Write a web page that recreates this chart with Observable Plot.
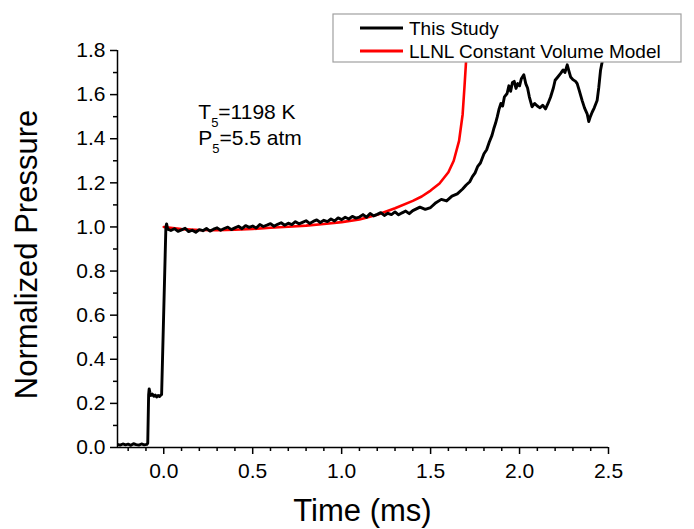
<!DOCTYPE html>
<html><head><meta charset="utf-8">
<script src="https://cdn.jsdelivr.net/npm/d3@7"></script>
<script src="https://cdn.jsdelivr.net/npm/@observablehq/plot@0.6"></script>
<style>
body{margin:0;background:#fff}
#chart{position:relative;width:694px;height:529px}
</style>
</head><body><div id="chart"></div>
<script>
// ---- Data ----
const studyTime = [
 -0.26,-0.245,-0.23,-0.215,-0.2,-0.185,-0.17,-0.155,-0.14,-0.125,-0.11,-0.095,
 -0.09,-0.085,-0.082,-0.078,-0.072,-0.064,-0.056,-0.048,-0.04,-0.032,-0.024,-0.016,
 -0.012,0.012,0.016,0.022,
 0.04,0.06,0.08,0.10,0.12,0.14,0.16,0.18,0.20,0.22,0.24,0.26,0.28,0.30,0.32,0.34,
 0.36,0.38,0.40,0.42,0.44,0.46,0.48,0.50,0.52,0.54,0.56,0.58,0.60,0.62,0.64,0.66,
 0.68,0.70,0.72,0.74,0.76,0.78,0.80,0.82,0.84,0.86,0.88,0.90,0.92,0.94,0.96,0.98,
 1.00,1.02,1.04,1.06,1.08,1.10,1.12,1.14,1.16,1.18,1.20,1.22,1.24,1.26,1.28,1.30,
 1.32,1.34,1.36,1.38,1.40,1.42,1.44,
 1.47,1.50,1.53,1.56,1.59,1.62,1.65,1.68,1.70,1.72,1.735,1.75,1.765,1.78,1.80,1.815,
 1.83,1.845,1.855,1.865,1.875,1.885,1.895,1.905,1.915,1.93,1.94,1.95,1.96,1.97,1.98,1.99,
 2.00,2.01,2.024,2.035,2.045,2.055,2.07,2.085,2.10,2.115,2.13,2.146,2.16,2.174,2.19,2.20,
 2.215,2.23,2.245,2.255,2.268,2.278,2.287,2.30,2.315,2.324,2.335,2.352,2.365,2.38,2.389,2.398,
 2.408,2.42,2.436,2.445,2.455,2.464,2.475,2.49
];
const studyPressure = [
 0.014,0.011,0.016,0.012,0.015,0.010,0.017,0.013,0.011,0.016,0.012,0.014,
 0.02,0.24,0.266,0.25,0.236,0.242,0.232,0.238,0.229,0.236,0.231,0.238,
 0.24,1.0,1.014,0.99,
 0.984,0.992,0.980,0.987,0.994,0.979,0.985,0.976,0.988,0.983,0.993,0.981,0.990,0.996,0.985,0.993,
 0.999,0.988,0.996,1.003,0.992,1.006,0.998,1.004,0.995,1.011,1.002,1.008,1.015,1.003,1.012,1.019,
 1.008,1.017,1.011,1.024,1.014,1.021,1.028,1.016,1.025,1.032,1.020,1.030,1.024,1.036,1.027,1.041,
 1.033,1.044,1.036,1.048,1.040,1.045,1.056,1.044,1.061,1.050,1.057,1.065,1.052,1.062,1.056,1.068,
 1.055,1.064,1.072,1.060,1.074,1.082,1.090,
 1.080,1.088,1.110,1.125,1.118,1.140,1.150,1.172,1.190,1.205,1.228,1.245,1.275,1.290,1.332,1.350,
 1.385,1.415,1.445,1.470,1.500,1.535,1.560,1.548,1.590,1.605,1.640,1.615,1.655,1.660,1.628,1.650,
 1.640,1.672,1.690,1.650,1.630,1.590,1.545,1.560,1.548,1.540,1.552,1.535,1.560,1.588,1.630,1.665,
 1.680,1.695,1.712,1.700,1.735,1.705,1.680,1.668,1.660,1.650,1.620,1.573,1.540,1.513,1.478,1.500,
 1.520,1.540,1.573,1.630,1.709,1.747,1.800,1.850
];
const modelTime = [0,0.1,0.2,0.3,0.4,0.5,0.6,0.7,0.8,0.9,1.0,1.1,1.2,1.3,1.4,1.45,1.5,1.55,1.6,1.63,1.66,1.68,1.69,1.70,1.705];
const modelPressure = [1.0,0.99,0.986,0.985,0.987,0.991,0.996,1.001,1.006,1.013,1.022,1.034,1.055,1.085,1.118,1.138,1.165,1.197,1.248,1.30,1.39,1.51,1.63,1.76,1.85];

const xTicks = [0,0.5,1.0,1.5,2.0,2.5];
const xMinorTicks = [-0.2,-0.1,0.1,0.2,0.3,0.4,0.6,0.7,0.8,0.9,1.1,1.2,1.3,1.4,1.6,1.7,1.8,1.9,2.1,2.2,2.3,2.4];
const yTicks = [0,0.2,0.4,0.6,0.8,1.0,1.2,1.4,1.6,1.8];
const yMinorTicks = [0.1,0.3,0.5,0.7,0.9,1.1,1.3,1.5,1.7];
const seriesNames = ["This Study","LLNL Constant Volume Model"];
const seriesColors = ["#000000","#ff0000"];
const xLabel = "Time (ms)";
const yLabel = "Normalized Pressure";
const note = {T: "1198 K", P: "5.5 atm"};

const study = studyTime.map((t,i)=>({t, p: studyPressure[i]}));
const model = modelTime.map((t,i)=>({t, p: modelPressure[i]}));
const font = "'Liberation Sans', Arial, sans-serif";

const plot = Plot.plot({
  width: 694, height: 529,
  marginLeft: 117, marginRight: 86, marginTop: 50, marginBottom: 82,
  style: {fontFamily: font, background: "#fff", color: "#000", overflow: "visible"},
  x: {domain: [-0.26, 2.5]},
  y: {domain: [0, 1.8]},
  marks: [
    Plot.line(model, {x: "t", y: "p", stroke: seriesColors[1], strokeWidth: 2.6, clip: true}),
    Plot.line(study, {x: "t", y: "p", stroke: seriesColors[0], strokeWidth: 2.9, clip: true, strokeLinejoin: "round"}),
    Plot.ruleY([0], {strokeWidth: 1.5}),
    Plot.ruleX([-0.26], {strokeWidth: 1.5}),
    Plot.axisX(xTicks, {anchor: "bottom", tickSize: 7, tickPadding: 9, strokeWidth: 1.5, fontSize: 21, tickFormat: d3.format(".1f"), label: null}),
    Plot.axisX(xMinorTicks, {anchor: "bottom", tickSize: 4, strokeWidth: 1.5, fill: "none", label: null}),
    Plot.axisY(yTicks, {anchor: "left", tickSize: 7, tickPadding: 5, strokeWidth: 1.5, fontSize: 21, tickFormat: d3.format(".1f"), label: null}),
    Plot.axisY(yMinorTicks, {anchor: "left", tickSize: 4, strokeWidth: 1.5, fill: "none", label: null})
  ]
});
document.getElementById("chart").appendChild(plot);

const svg = d3.select(plot);
const xs = plot.scale("x"), ys = plot.scale("y");

// axis titles
svg.append("text").attr("x", (xs.apply(-0.26)+xs.apply(2.5))/2).attr("y", 521)
  .attr("text-anchor","middle").attr("font-size", 31).attr("font-family", font).attr("fill","#000").text(xLabel);
svg.append("text").attr("transform", `translate(37,${(ys.apply(0)+ys.apply(1.8))/2 + 6}) rotate(-90)`)
  .attr("text-anchor","middle").attr("font-size", 31).attr("font-family", font).attr("fill","#000").text(yLabel);

// annotation
const ann = svg.append("g").attr("font-family", font).attr("font-size", 21).attr("fill","#000").attr("text-anchor","start");
const ax = xs.apply(0.197);
[["T", note.T, 1.487], ["P", note.P, 1.369]].forEach(([sym, val, yv]) => {
  const t = ann.append("text").attr("x", ax).attr("y", ys.apply(yv));
  t.append("tspan").text(sym);
  t.append("tspan").attr("font-size", 13).attr("dy", 8).text("5");
  t.append("tspan").attr("dy", -8).text("=" + val);
});

// legend
const lg = svg.append("g").attr("font-family", font).attr("font-size", 19).attr("text-anchor","start");
lg.append("rect").attr("x", 333).attr("y", 14).attr("width", 348).attr("height", 48)
  .attr("fill", "#fff").attr("stroke", "#a0a0a0").attr("stroke-width", 1.2);
seriesNames.forEach((name, i) => {
  const cy = 28 + i*23;
  lg.append("line").attr("x1", 360).attr("x2", 403).attr("y1", cy).attr("y2", cy)
    .attr("stroke", seriesColors[i]).attr("stroke-width", 3);
  lg.append("text").attr("x", 409).attr("y", cy + 7).attr("fill", "#000").text(name);
});
</script>
</body></html>
